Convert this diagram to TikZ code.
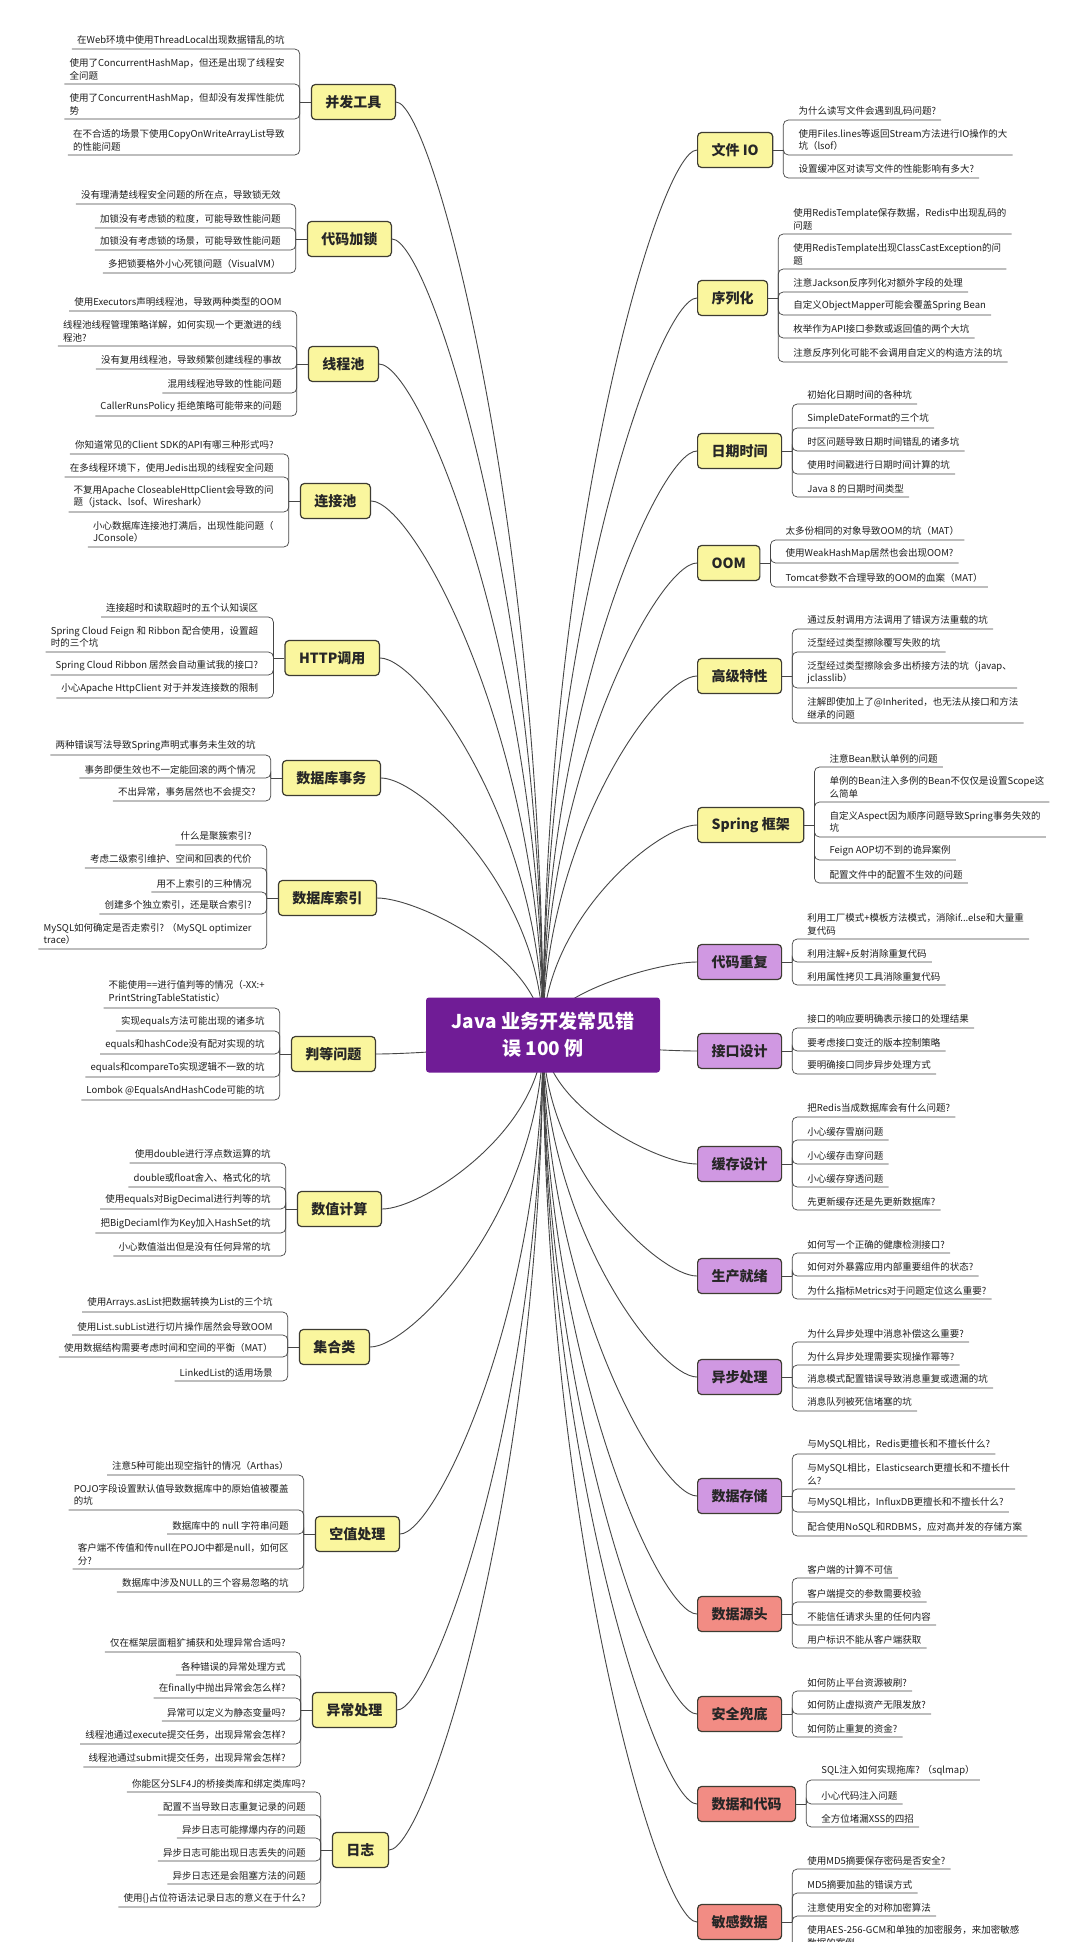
\documentclass[tikz,border=0pt]{standalone}
\usepackage{fontspec}
\setmainfont{Noto Sans CJK SC}
\usetikzlibrary{calc}
\definecolor{rootpurple}{RGB}{112,28,150}
\definecolor{ytopic}{RGB}{250,246,158}
\definecolor{ptopic}{RGB}{208,152,226}
\definecolor{rtopic}{RGB}{242,140,132}
\definecolor{edgegray}{RGB}{62,60,50}
\definecolor{linegray}{RGB}{70,70,70}
\definecolor{itemgray}{RGB}{30,30,30}
\begin{document}
\begin{tikzpicture}[x=1pt,y=-1pt,
    topic/.style={draw=edgegray, line width=1.2pt, rounded corners=4pt, minimum height=35pt, inner xsep=14pt, font=\fontsize{14}{16}\selectfont\bfseries, text=black!85},
    ytop/.style={topic, fill=ytopic},
    ptop/.style={topic, fill=ptopic},
    rtop/.style={topic, fill=rtopic},
    item/.style={font=\fontsize{9.5}{12.5}\selectfont, text=itemgray, align=left, inner xsep=5pt, inner ysep=4pt},
    itemL/.style={item, anchor=south east, xshift=-10pt},
    itemR/.style={item, anchor=south west, xshift=10pt},
    twig/.style={draw=linegray, line width=0.7pt, rounded corners=5pt},
    limb/.style={draw=linegray, line width=0.9pt}]
    \fill[white] (0,0) rectangle (1080,1942);
    \useasboundingbox (0,0) rectangle (1080,1942);
    \coordinate (hub) at (543,1035);

    \node[ytop, anchor=east] (L1) at (396,102) {并发工具};
    \draw[twig] (L1.west) -- ++(-11,0) coordinate (L1j);
    \foreach \y/\txt in {49/{在Web环境中使用ThreadLocal出现数据错乱的坑}, 84/{使用了ConcurrentHashMap，但还是出现了线程安\\全问题}, 119/{使用了ConcurrentHashMap，但却没有发挥性能优\\势}, 155/{在不合适的场景下使用CopyOnWriteArrayList导致\\的性能问题}}{
        \node[itemL] (L1-\y) at (L1j|-0,\y) {\txt};
        \draw[twig] (L1j) |- (L1-\y.south west);
    }

    \node[ytop, anchor=east] (L2) at (392,239) {代码加锁};
    \draw[twig] (L2.west) -- ++(-11,0) coordinate (L2j);
    \foreach \y/\txt in {204/{没有理清楚线程安全问题的所在点，导致锁无效}, 228/{加锁没有考虑锁的粒度，可能导致性能问题}, 250/{加锁没有考虑锁的场景，可能导致性能问题}, 273/{多把锁要格外小心死锁问题（VisualVM）}}{
        \node[itemL] (L2-\y) at (L2j|-0,\y) {\txt};
        \draw[twig] (L2j) |- (L2-\y.south west);
    }

    \node[ytop, anchor=east] (L3) at (379,364) {线程池};
    \draw[twig] (L3.west) -- ++(-11,0) coordinate (L3j);
    \foreach \y/\txt in {311/{使用Executors声明线程池，导致两种类型的OOM}, 346/{线程池线程管理策略详解，如何实现一个更激进的线\\程池?}, 369/{没有复用线程池，导致频繁创建线程的事故}, 393/{混用线程池导致的性能问题}, 416/{CallerRunsPolicy 拒绝策略可能带来的问题}}{
        \node[itemL] (L3-\y) at (L3j|-0,\y) {\txt};
        \draw[twig] (L3j) |- (L3-\y.south west);
    }

    \node[ytop, anchor=east] (L4) at (371,501) {连接池};
    \draw[twig] (L4.west) -- ++(-11,0) coordinate (L4j);
    \foreach \y/\txt in {454/{你知道常见的Client SDK的API有哪三种形式吗?}, 477/{在多线程环境下，使用Jedis出现的线程安全问题}, 512/{不复用Apache CloseableHttpClient会导致的问\\题（jstack、lsof、Wireshark）}, 547/{小心数据库连接池打满后，出现性能问题（\\JConsole）}}{
        \node[itemL] (L4-\y) at (L4j|-0,\y) {\txt};
        \draw[twig] (L4j) |- (L4-\y.south west);
    }

    \node[ytop, anchor=east] (L5) at (380,658) {HTTP调用};
    \draw[twig] (L5.west) -- ++(-11,0) coordinate (L5j);
    \foreach \y/\txt in {617/{连接超时和读取超时的五个认知误区}, 652/{Spring Cloud Feign 和 Ribbon 配合使用，设置超\\时的三个坑}, 675/{Spring Cloud Ribbon 居然会自动重试我的接口?}, 698/{小心Apache HttpClient 对于并发连接数的限制}}{
        \node[itemL] (L5-\y) at (L5j|-0,\y) {\txt};
        \draw[twig] (L5j) |- (L5-\y.south west);
    }

    \node[ytop, anchor=east] (L6) at (381,778) {数据库事务};
    \draw[twig] (L6.west) -- ++(-11,0) coordinate (L6j);
    \foreach \y/\txt in {755/{两种错误写法导致Spring声明式事务未生效的坑}, 778/{事务即便生效也不一定能回滚的两个情况}, 801/{不出异常，事务居然也不会提交?}}{
        \node[itemL] (L6-\y) at (L6j|-0,\y) {\txt};
        \draw[twig] (L6j) |- (L6-\y.south west);
    }

    \node[ytop, anchor=east] (L7) at (377,898) {数据库索引};
    \draw[twig] (L7.west) -- ++(-11,0) coordinate (L7j);
    \foreach \y/\txt in {845/{什么是聚簇索引?}, 868/{考虑二级索引维护、空间和回表的代价}, 892/{用不上索引的三种情况}, 914/{创建多个独立索引，还是联合索引?}, 949/{MySQL如何确定是否走索引? （MySQL optimizer\\trace）}}{
        \node[itemL] (L7-\y) at (L7j|-0,\y) {\txt};
        \draw[twig] (L7j) |- (L7-\y.south west);
    }

    \node[ytop, anchor=east] (L8) at (376,1054) {判等问题};
    \draw[twig] (L8.west) -- ++(-11,0) coordinate (L8j);
    \foreach \y/\txt in {1008/{不能使用==进行值判等的情况（-XX:+\\PrintStringTableStatistic）}, 1031/{实现equals方法可能出现的诸多坑}, 1054/{equals和hashCode没有配对实现的坑}, 1077/{equals和compareTo实现逻辑不一致的坑}, 1100/{Lombok @EqualsAndHashCode可能的坑}}{
        \node[itemL] (L8-\y) at (L8j|-0,\y) {\txt};
        \draw[twig] (L8j) |- (L8-\y.south west);
    }

    \node[ytop, anchor=east] (L9) at (382,1209) {数值计算};
    \draw[twig] (L9.west) -- ++(-11,0) coordinate (L9j);
    \foreach \y/\txt in {1163/{使用double进行浮点数运算的坑}, 1187/{double或float舍入、格式化的坑}, 1209/{使用equals对BigDecimal进行判等的坑}, 1233/{把BigDeciaml作为Key加入HashSet的坑}, 1256/{小心数值溢出但是没有任何异常的坑}}{
        \node[itemL] (L9-\y) at (L9j|-0,\y) {\txt};
        \draw[twig] (L9j) |- (L9-\y.south west);
    }

    \node[ytop, anchor=east] (L10) at (370,1347) {集合类};
    \draw[twig] (L10.west) -- ++(-11,0) coordinate (L10j);
    \foreach \y/\txt in {1312/{使用Arrays.asList把数据转换为List的三个坑}, 1335/{使用List.subList进行切片操作居然会导致OOM}, 1357/{使用数据结构需要考虑时间和空间的平衡（MAT）}, 1381/{LinkedList的适用场景}}{
        \node[itemL] (L10-\y) at (L10j|-0,\y) {\txt};
        \draw[twig] (L10j) |- (L10-\y.south west);
    }

    \node[ytop, anchor=east] (L11) at (400,1534) {空值处理};
    \draw[twig] (L11.west) -- ++(-11,0) coordinate (L11j);
    \foreach \y/\txt in {1475/{注意5种可能出现空指针的情况（Arthas）}, 1510/{POJO字段设置默认值导致数据库中的原始值被覆盖\\的坑}, 1534/{数据库中的 null 字符串问题}, 1569/{客户端不传值和传null在POJO中都是null，如何区\\分?}, 1592/{数据库中涉及NULL的三个容易忽略的坑}}{
        \node[itemL] (L11-\y) at (L11j|-0,\y) {\txt};
        \draw[twig] (L11j) |- (L11-\y.south west);
    }

    \node[ytop, anchor=east] (L12) at (397,1710) {异常处理};
    \draw[twig] (L12.west) -- ++(-11,0) coordinate (L12j);
    \foreach \y/\txt in {1652/{仅在框架层面粗犷捕获和处理异常合适吗?}, 1675/{各种错误的异常处理方式}, 1698/{在finally中抛出异常会怎么样?}, 1721/{异常可以定义为静态变量吗?}, 1744/{线程池通过execute提交任务，出现异常会怎样?}, 1767/{线程池通过submit提交任务，出现异常会怎样?}}{
        \node[itemL] (L12-\y) at (L12j|-0,\y) {\txt};
        \draw[twig] (L12j) |- (L12-\y.south west);
    }

    \node[ytop, anchor=east] (L13) at (389,1850) {日志};
    \draw[twig] (L13.west) -- ++(-11,0) coordinate (L13j);
    \foreach \y/\txt in {1792/{你能区分SLF4J的桥接类库和绑定类库吗?}, 1815/{配置不当导致日志重复记录的问题}, 1838/{异步日志可能撑爆内存的问题}, 1861/{异步日志可能出现日志丢失的问题}, 1884/{异步日志还是会阻塞方法的问题}, 1907/{使用\{\}占位符语法记录日志的意义在于什么?}}{
        \node[itemL] (L13-\y) at (L13j|-0,\y) {\txt};
        \draw[twig] (L13j) |- (L13-\y.south west);
    }

    \node[ytop, anchor=west] (R1) at (697,150) {文件 IO};
    \draw[twig] (R1.east) -- ++(10,0) coordinate (R1j);
    \foreach \y/\txt in {120/{为什么读写文件会遇到乱码问题?}, 155/{使用Files.lines等返回Stream方法进行IO操作的大\\坑（lsof）}, 178/{设置缓冲区对读写文件的性能影响有多大?}}{
        \node[itemR] (R1-\y) at (R1j|-0,\y) {\txt};
        \draw[twig] (R1j) |- (R1-\y.south east);
    }

    \node[ytop, anchor=west] (R2) at (697,298) {序列化};
    \draw[twig] (R2.east) -- ++(10,0) coordinate (R2j);
    \foreach \y/\txt in {234/{使用RedisTemplate保存数据，Redis中出现乱码的\\问题}, 269/{使用RedisTemplate出现ClassCastException的问\\题}, 292/{注意Jackson反序列化对额外字段的处理}, 315/{自定义ObjectMapper可能会覆盖Spring Bean}, 338/{枚举作为API接口参数或返回值的两个大坑}, 362/{注意反序列化可能不会调用自定义的构造方法的坑}}{
        \node[itemR] (R2-\y) at (R2j|-0,\y) {\txt};
        \draw[twig] (R2j) |- (R2-\y.south east);
    }

    \node[ytop, anchor=west] (R3) at (697,451) {日期时间};
    \draw[twig] (R3.east) -- ++(10,0) coordinate (R3j);
    \foreach \y/\txt in {404/{初始化日期时间的各种坑}, 428/{SimpleDateFormat的三个坑}, 451/{时区问题导致日期时间错乱的诸多坑}, 474/{使用时间戳进行日期时间计算的坑}, 497/{Java 8 的日期时间类型}}{
        \node[itemR] (R3-\y) at (R3j|-0,\y) {\txt};
        \draw[twig] (R3j) |- (R3-\y.south east);
    }

    \node[ytop, anchor=west] (R4) at (697,563) {OOM};
    \draw[twig] (R4.east) -- ++(10,0) coordinate (R4j);
    \foreach \y/\txt in {540/{太多份相同的对象导致OOM的坑（MAT）}, 563/{使用WeakHashMap居然也会出现OOM?}, 587/{Tomcat参数不合理导致的OOM的血案（MAT）}}{
        \node[itemR] (R4-\y) at (R4j|-0,\y) {\txt};
        \draw[twig] (R4j) |- (R4-\y.south east);
    }

    \node[ytop, anchor=west] (R5) at (697,676) {高级特性};
    \draw[twig] (R5.east) -- ++(10,0) coordinate (R5j);
    \foreach \y/\txt in {629/{通过反射调用方法调用了错误方法重载的坑}, 652/{泛型经过类型擦除覆写失败的坑}, 688/{泛型经过类型擦除会多出桥接方法的坑（javap、\\jclasslib）}, 723/{注解即使加上了@Inherited，也无法从接口和方法\\继承的问题}}{
        \node[itemR] (R5-\y) at (R5j|-0,\y) {\txt};
        \draw[twig] (R5j) |- (R5-\y.south east);
    }

    \node[ytop, anchor=west] (R6) at (697,825) {Spring 框架};
    \draw[twig] (R6.east) -- ++(10,0) coordinate (R6j);
    \foreach \y/\txt in {767/{注意Bean默认单例的问题}, 802/{单例的Bean注入多例的Bean不仅仅是设置Scope这\\么简单}, 837/{自定义Aspect因为顺序问题导致Spring事务失效的\\坑}, 860/{Feign AOP切不到的诡异案例}, 883/{配置文件中的配置不生效的问题}}{
        \node[itemR] (R6-\y) at (R6j|-0,\y) {\txt};
        \draw[twig] (R6j) |- (R6-\y.south east);
    }

    \node[ptop, anchor=west] (R7) at (697,962) {代码重复};
    \draw[twig] (R7.east) -- ++(10,0) coordinate (R7j);
    \foreach \y/\txt in {939/{利用工厂模式+模板方法模式，消除if...else和大量重\\复代码}, 962/{利用注解+反射消除重复代码}, 985/{利用属性拷贝工具消除重复代码}}{
        \node[itemR] (R7-\y) at (R7j|-0,\y) {\txt};
        \draw[twig] (R7j) |- (R7-\y.south east);
    }

    \node[ptop, anchor=west] (R8) at (697,1051) {接口设计};
    \draw[twig] (R8.east) -- ++(10,0) coordinate (R8j);
    \foreach \y/\txt in {1028/{接口的响应要明确表示接口的处理结果}, 1051/{要考虑接口变迁的版本控制策略}, 1074/{要明确接口同步异步处理方式}}{
        \node[itemR] (R8-\y) at (R8j|-0,\y) {\txt};
        \draw[twig] (R8j) |- (R8-\y.south east);
    }

    \node[ptop, anchor=west] (R9) at (697,1164) {缓存设计};
    \draw[twig] (R9.east) -- ++(10,0) coordinate (R9j);
    \foreach \y/\txt in {1117/{把Redis当成数据库会有什么问题?}, 1140/{小心缓存雪崩问题}, 1164/{小心缓存击穿问题}, 1187/{小心缓存穿透问题}, 1210/{先更新缓存还是先更新数据库?}}{
        \node[itemR] (R9-\y) at (R9j|-0,\y) {\txt};
        \draw[twig] (R9j) |- (R9-\y.south east);
    }

    \node[ptop, anchor=west] (R10) at (697,1276) {生产就绪};
    \draw[twig] (R10.east) -- ++(10,0) coordinate (R10j);
    \foreach \y/\txt in {1253/{如何写一个正确的健康检测接口?}, 1276/{如何对外暴露应用内部重要组件的状态?}, 1299/{为什么指标Metrics对于问题定位这么重要?}}{
        \node[itemR] (R10-\y) at (R10j|-0,\y) {\txt};
        \draw[twig] (R10j) |- (R10-\y.south east);
    }

    \node[ptop, anchor=west] (R11) at (697,1377) {异步处理};
    \draw[twig] (R11.east) -- ++(10,0) coordinate (R11j);
    \foreach \y/\txt in {1342/{为什么异步处理中消息补偿这么重要?}, 1365/{为什么异步处理需要实现操作幂等?}, 1388/{消息模式配置错误导致消息重复或遗漏的坑}, 1411/{消息队列被死信堵塞的坑}}{
        \node[itemR] (R11-\y) at (R11j|-0,\y) {\txt};
        \draw[twig] (R11j) |- (R11-\y.south east);
    }

    \node[ptop, anchor=west] (R12) at (697,1496) {数据存储};
    \draw[twig] (R12.east) -- ++(10,0) coordinate (R12j);
    \foreach \y/\txt in {1454/{与MySQL相比，Redis更擅长和不擅长什么?}, 1489/{与MySQL相比，Elasticsearch更擅长和不擅长什\\么?}, 1512/{与MySQL相比，InfluxDB更擅长和不擅长什么?}, 1536/{配合使用NoSQL和RDBMS，应对高并发的存储方案}}{
        \node[itemR] (R12-\y) at (R12j|-0,\y) {\txt};
        \draw[twig] (R12j) |- (R12-\y.south east);
    }

    \node[rtop, anchor=west] (R13) at (697,1614) {数据源头};
    \draw[twig] (R13.east) -- ++(10,0) coordinate (R13j);
    \foreach \y/\txt in {1578/{客户端的计算不可信}, 1602/{客户端提交的参数需要校验}, 1625/{不能信任请求头里的任何内容}, 1648/{用户标识不能从客户端获取}}{
        \node[itemR] (R13-\y) at (R13j|-0,\y) {\txt};
        \draw[twig] (R13j) |- (R13-\y.south east);
    }

    \node[rtop, anchor=west] (R14) at (697,1714) {安全兜底};
    \draw[twig] (R14.east) -- ++(10,0) coordinate (R14j);
    \foreach \y/\txt in {1691/{如何防止平台资源被刷?}, 1714/{如何防止虚拟资产无限发放?}, 1737/{如何防止重复的资金?}}{
        \node[itemR] (R14-\y) at (R14j|-0,\y) {\txt};
        \draw[twig] (R14j) |- (R14-\y.south east);
    }

    \node[rtop, anchor=west] (R15) at (697,1804) {数据和代码};
    \draw[twig] (R15.east) -- ++(10,0) coordinate (R15j);
    \foreach \y/\txt in {1780/{SQL注入如何实现拖库? （sqlmap）}, 1804/{小心代码注入问题}, 1827/{全方位堵漏XSS的四招}}{
        \node[itemR] (R15-\y) at (R15j|-0,\y) {\txt};
        \draw[twig] (R15j) |- (R15-\y.south east);
    }

    \node[rtop, anchor=west] (R16) at (697,1922) {敏感数据};
    \draw[twig] (R16.east) -- ++(10,0) coordinate (R16j);
    \foreach \y/\txt in {1869/{使用MD5摘要保存密码是否安全?}, 1893/{MD5摘要加盐的错误方式}, 1916/{注意使用安全的对称加密算法}, 1951/{使用AES-256-GCM和单独的加密服务，来加密敏感\\数据的案例}}{
        \node[itemR] (R16-\y) at (R16j|-0,\y) {\txt};
        \draw[twig] (R16j) |- (R16-\y.south east);
    }

    \foreach \n in {L1,L2,L3,L4,L5,L6,L7,L8,L9,L10,L11,L12,L13}
        \draw[limb] (hub) .. controls ($(hub)!0.55!(hub|-\n.east)$) and ($(\n.east)!0.25!(hub|-\n.east)$) .. (\n.east);
    \foreach \n in {R1,R2,R3,R4,R5,R6,R7,R8,R9,R10,R11,R12,R13,R14,R15,R16}
        \draw[limb] (hub) .. controls ($(hub)!0.55!(hub|-\n.west)$) and ($(\n.west)!0.25!(hub|-\n.west)$) .. (\n.west);

    \node[fill=rootpurple, rounded corners=3pt, text=white, font=\fontsize{19}{27}\selectfont\bfseries, align=center, minimum width=234pt, minimum height=75pt] (root) at (hub) {Java 业务开发常见错\\误 100 例};
\end{tikzpicture}
\end{document}
